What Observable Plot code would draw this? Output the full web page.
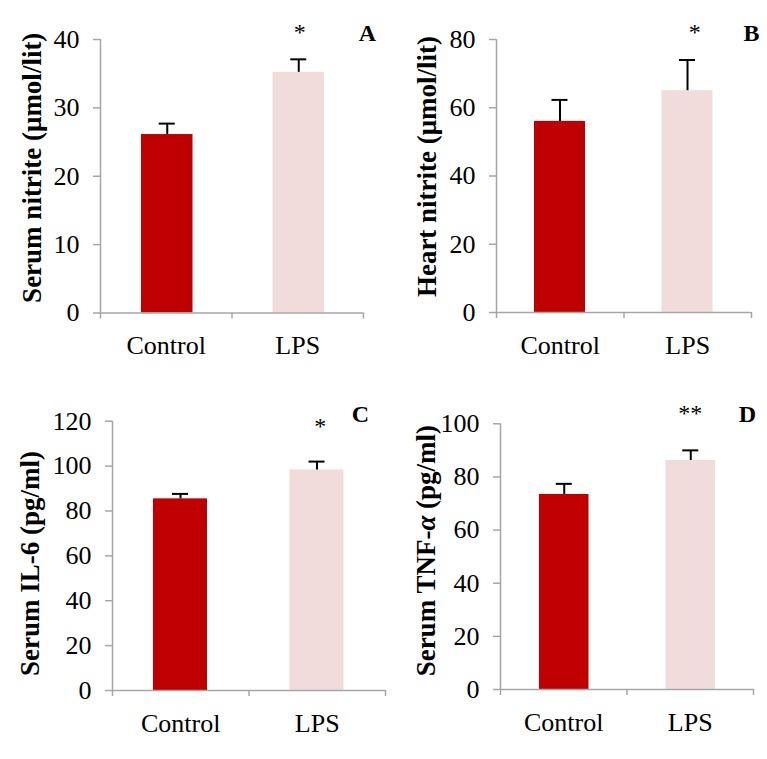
<!DOCTYPE html>
<html>
<head>
<meta charset="utf-8">
<script src="https://cdn.jsdelivr.net/npm/d3@7"></script>
<script src="https://cdn.jsdelivr.net/npm/@observablehq/plot@0.6"></script>
<style>
  html, body { margin: 0; padding: 0; background: #ffffff; }
  #chart { position: relative; width: 767px; height: 759px; background: #ffffff; overflow: hidden; }
</style>
</head>
<body>
<div id="chart"></div>
<script>
// ---- Data ----
const categories = ["Control", "LPS"];
const barColors = ["#C00000", "#F2DCDB"];

const serumNitrite = [26.1, 35.2];
const serumNitriteErr = [1.6, 1.9];

const heartNitrite = [56.0, 65.0];
const heartNitriteErr = [6.3, 9.0];

const serumIL6 = [85.4, 98.3];
const serumIL6Err = [2.2, 3.7];

const serumTNF = [73.4, 86.2];
const serumTNFErr = [4.0, 3.8];

const panelLetters = ["A", "B", "C", "D"];
const significance = ["*", "*", "*", "**"];   // marks above the LPS bar
const yTitles = [
  "Serum nitrite (μmol/lit)",
  "Heart nitrite (μmol/lit)",
  "Serum IL-6 (pg/ml)",
  "Serum TNF-α (pg/ml)"
];
const yMaxima = [40, 80, 120, 100];
const yTickSteps = [10, 20, 20, 20];

const panelValues = [serumNitrite, heartNitrite, serumIL6, serumTNF];
const panelErrors = [serumNitriteErr, heartNitriteErr, serumIL6Err, serumTNFErr];

// ---- Layout / styling (not data) ----
const layout = [
  {left: 0,   top: 0,   width: 383, height: 370, mL: 100, mR: 20, mT: 39,   mB: 57.5,
   barL: 41, barR: 39, titleDx: -60,   titleDy: -8.5, sigDx: 2, sigDy: 0, letDx: 4,   letDy: 1},
  {left: 383, top: 0,   width: 384, height: 370, mL: 113, mR: 16, mT: 39,   mB: 58,
   barL: 38, barR: 38.5, titleDx: -61, titleDy: -9.5, sigDx: 7, sigDy: 0, letDx: 0,   letDy: 1},
  {left: 0,   top: 380, width: 392, height: 379, mL: 112, mR: 7,  mT: 40.7, mB: 69,
   barL: 41, barR: 41.5, titleDx: -74, titleDy: 7.7, sigDx: 3, sigDy: 13, letDx: -25, letDy: 1},
  {left: 383, top: 380, width: 384, height: 379, mL: 117, mR: 14, mT: 43.3, mB: 70,
   barL: 39, barR: 38, titleDx: -65.5, titleDy: -6, sigDx: 0, sigDy: -3, letDx: -6,  letDy: -2}
];

const axisGray = "#A6A6A6";
const serif = "Liberation Serif";
const capWidth = 16;

const container = document.getElementById("chart");

panelLetters.forEach((letter, p) => {
  const L = layout[p];
  const rows = categories.map((cat, i) => ({
    cat, i,
    x1: i, x2: i + 1,
    value: panelValues[p][i],
    err: panelErrors[p][i],
    color: barColors[i]
  }));
  const yTicks = d3.range(0, yMaxima[p] + 1, yTickSteps[p]);
  const sigRows = [{i: categories.length - 1, text: significance[p]}];
  const slotPx = (L.width - L.mL - L.mR) / categories.length;
  const barW = slotPx - L.barL - L.barR;
  const capL = L.barL + (barW - capWidth) / 2;
  const capR = L.barR + (barW - capWidth) / 2;
  const centerShift = (L.barL - L.barR) / 2;

  const svg = Plot.plot({
    width: L.width,
    height: L.height,
    marginLeft: L.mL,
    marginRight: L.mR,
    marginTop: L.mT,
    marginBottom: L.mB,
    x: {domain: [0, categories.length], axis: null},
    y: {domain: [0, yMaxima[p]], axis: null},
    color: {type: "identity"},
    style: {
      position: "absolute",
      left: L.left + "px",
      top: L.top + "px",
      background: "transparent",
      fontFamily: serif,
      overflow: "visible",
      maxWidth: "none"
    },
    marks: [
      // bars
      Plot.rectY(rows, {x1: "x1", x2: "x2", y: "value", fill: "color",
                        insetLeft: L.barL, insetRight: L.barR}),
      // y axis line and x axis line
      Plot.ruleX([0], {stroke: axisGray, strokeWidth: 1.5}),
      Plot.ruleY([0], {stroke: axisGray, strokeWidth: 1.5}),
      // y ticks
      Plot.axisY({
        ticks: yTicks, tickSize: 7, stroke: axisGray, strokeWidth: 1.5,
        tickFormat: () => "", label: null
      }),
      // y tick labels
      Plot.text(yTicks, {y: d => d, text: d => String(d), frameAnchor: "left",
                         textAnchor: "end", fontSize: 26, fontFamily: serif,
                         fill: "black", dx: -21}),
      // category boundary ticks on the x axis
      Plot.axisX({
        ticks: d3.range(0, categories.length + 1),
        tickSize: 6, stroke: axisGray, strokeWidth: 1.5,
        tickFormat: () => "", label: null
      }),
      // category labels
      Plot.text(rows, {x: d => d.i + 0.5, text: "cat", frameAnchor: "bottom",
                       lineAnchor: "top", fontSize: 26, fontFamily: serif,
                       fill: "black", dy: 23}),
      // error bars (upper half only)
      Plot.ruleX(rows, {x: d => d.i + 0.5, y1: "value", y2: d => d.value + d.err,
                        stroke: "black", strokeWidth: 2, dx: centerShift}),
      Plot.ruleY(rows, {x1: "x1", x2: "x2", y: d => d.value + d.err,
                        insetLeft: capL, insetRight: capR,
                        stroke: "black", strokeWidth: 2}),
      // significance asterisks
      Plot.text(sigRows, {x: d => d.i + 0.5, text: "text", frameAnchor: "top",
                          lineAnchor: "bottom", fontSize: 24, fontFamily: serif, fill: "black",
                          dx: L.sigDx, dy: L.sigDy}),
      // panel letter
      Plot.text([letter], {text: d => d, frameAnchor: "top-right", textAnchor: "middle",
                           lineAnchor: "bottom", fontSize: 24, fontWeight: "bold", fontFamily: serif,
                           fill: "black", dx: L.letDx, dy: L.letDy}),
      // y axis title
      Plot.text([yTitles[p]], {text: d => d, frameAnchor: "left", rotate: -90,
                               textAnchor: "middle", lineAnchor: "bottom",
                               fontSize: 27, fontWeight: "bold", fontFamily: serif, fill: "black",
                               dx: L.titleDx, dy: L.titleDy})
    ]
  });

  // italicize the Greek alpha in the TNF-α title
  svg.querySelectorAll("text").forEach(t => {
    if (t.textContent.includes("α") && t.childNodes.length === 1) {
      const full = t.textContent;
      const k = full.indexOf("α");
      const ns = "http://www.w3.org/2000/svg";
      t.textContent = "";
      const a = document.createElementNS(ns, "tspan"); a.textContent = full.slice(0, k);
      const b = document.createElementNS(ns, "tspan"); b.textContent = "α"; b.setAttribute("font-style", "italic");
      const c = document.createElementNS(ns, "tspan"); c.textContent = full.slice(k + 1);
      t.append(a, b, c);
    }
  });

  container.appendChild(svg);
});
</script>
</body>
</html>
